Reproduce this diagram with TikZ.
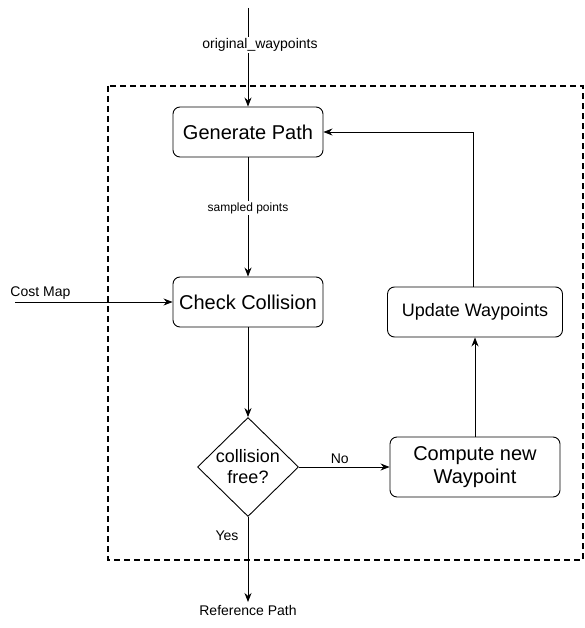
\documentclass[tikz,border=0pt]{standalone}
\usepackage{fontspec}
\setmainfont{Liberation Sans}
\usetikzlibrary{arrows.meta,shapes.geometric,positioning}
\tikzset{
  stepbox/.style={draw,rounded corners=7pt,minimum width=150pt,minimum height=50pt,align=center,font=\fontsize{20}{23}\selectfont},
  decision/.style={draw,diamond,inner sep=0pt,minimum width=101pt,minimum height=99pt,align=center,font=\fontsize{18}{21}\selectfont},
  edgelabel/.style={fill=white,inner sep=1pt,font=\fontsize{14}{16}\selectfont},
  frame/.style={line width=1.6pt,dash pattern=on 6pt off 4pt}
}
\begin{document}
\begin{tikzpicture}[x=1pt,y=-1pt,line width=0.9pt,>={Stealth[length=9pt,width=7pt]}]
	\useasboundingbox (0,0) rectangle (585,628);
	% dashed frame
	\draw[frame] (108,86) rectangle (583,560);
	% Steps
	\node[stepbox] (gen) at (248,132) {Generate Path};
	\node[stepbox] (check) at (248,302) {Check Collision};
	\node[decision] (free) at (248,467) {collision\\free?};
	\node[stepbox,minimum width=170pt,minimum height=60pt] (compute) at (475,467) {Compute new\\Waypoint};
	\node[stepbox,minimum width=175pt,font=\fontsize{18}{21}\selectfont] (update) at (475,312) {Update Waypoints};
	% free ends
	\coordinate (in) at (248,8);
	\coordinate (cost) at (15,302);
	\coordinate (out) at (248,602);
	\coordinate (corner) at (473,132);
	% Connectors
	\draw[->] (in) -- (gen);
	\node[edgelabel] (inlabel) at (260,45) {original\_waypoints};
	\draw[->] (gen) -- (check);
	\node[edgelabel,font=\fontsize{12}{14}\selectfont] (sampled) at (248,208) {sampled points};
	\draw[->] (cost) -- (check);
	\node[anchor=west,inner sep=0pt,font=\fontsize{14}{16}\selectfont] (costlabel) at (10,293) {Cost Map};
	\draw[->] (check) -- (free);
	\draw[->] (free) -- node[above,font=\fontsize{14}{16}\selectfont,pos=0.45] {No} (compute);
	\draw[->] (compute) -- (update);
	\draw[->] (corner |- update.north) -- (corner) -- (gen.east);
	\draw[->] (free) -- (out);
	\node[edgelabel,fill=none] (yes) at (227,536) {Yes};
	\node[edgelabel,fill=none] (ref) at (248,610) {Reference Path};
\end{tikzpicture}
\end{document}
